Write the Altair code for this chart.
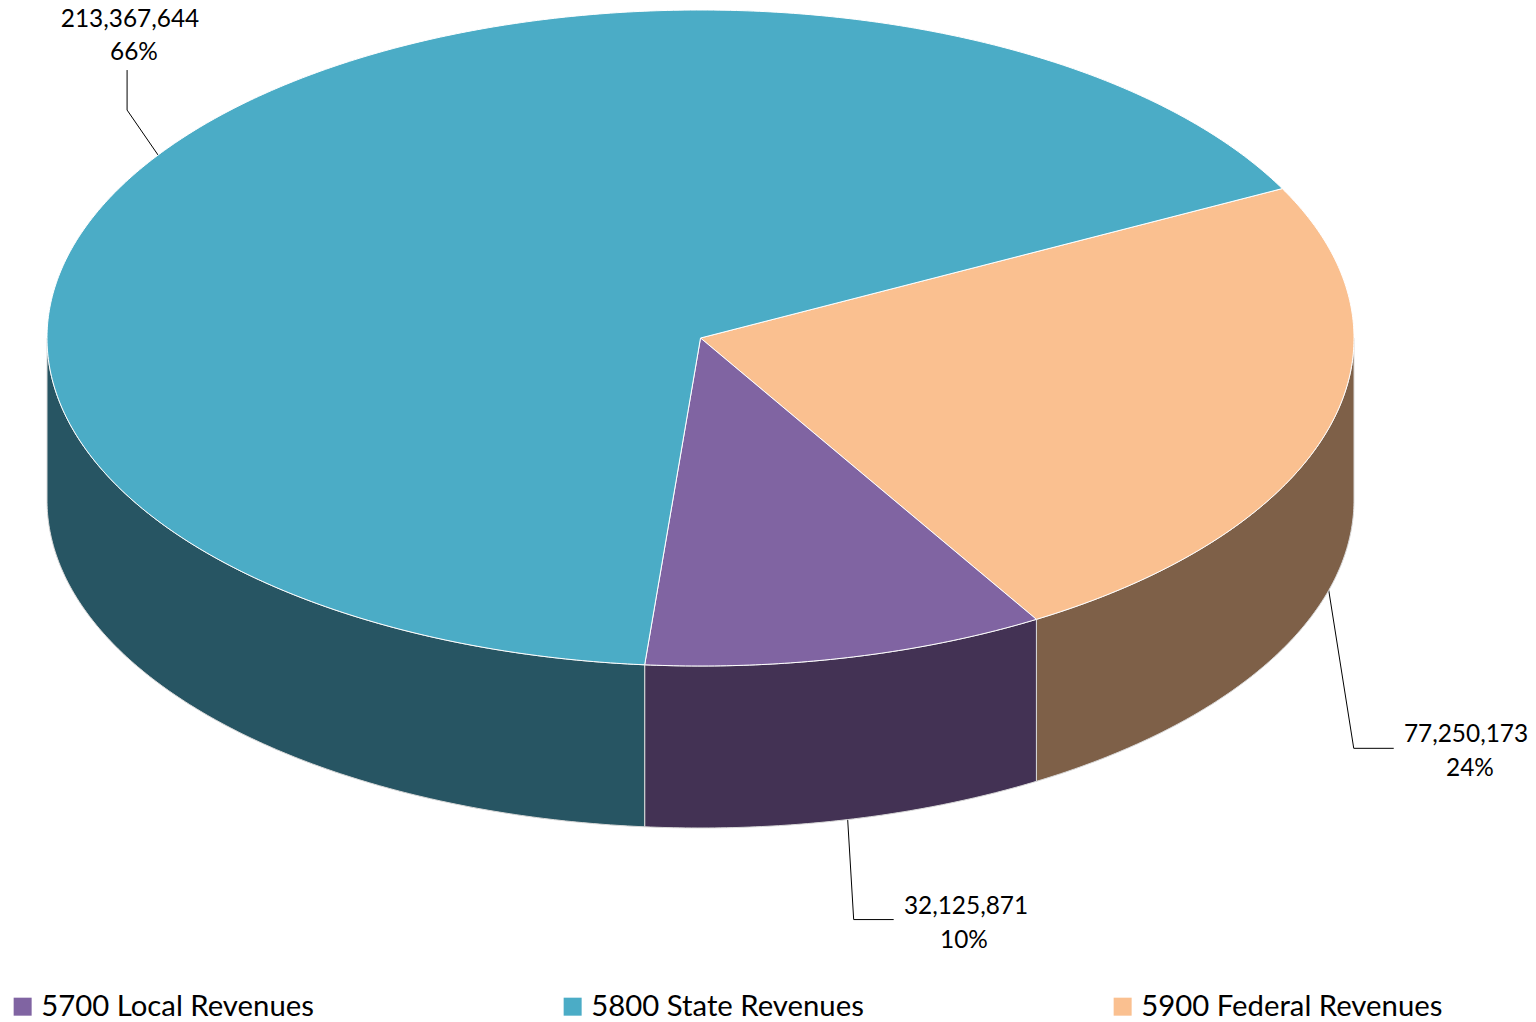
import math
import altair as alt
import pandas as pd

categories = ["5700 Local Revenues", "5800 State Revenues", "5900 Federal Revenues"]
values = [32125871, 213367644, 77250173]
percent_labels = ["10%", "66%", "24%"]
value_labels = ["32,125,871", "213,367,644", "77,250,173"]
top_colors = ["#8064A2", "#4BACC6", "#FAC090"]
side_colors = ["#433254", "#275563", "#7E6048"]
draw_order = [2, 0, 1]          # clockwise from the first slice
first_angle = 62.9              # degrees clockwise from 12 o'clock
cx, cy, rx, ry, depth = 700.5, 338.0, 653.5, 328.0, 162.0
# leader elbow and label offsets relative to the slice's mid point on the rim
elbows = {0: [(6, 100), (46, 100)], 1: [(-31, -45), (-31, -85)], 2: [(25, 158), (65, 158)]}
label_xy = {0: (966, 964, 907, 941), 1: (130, 134, 20, 53), 2: (1466, 1470, 735, 769)}

W, H = 1520, 1014
xs = alt.Scale(domain=[8, 8 + W], nice=False, zero=False)
ys = alt.Scale(domain=[8 + H, 8], nice=False, zero=False)
X = alt.X("x:Q", scale=xs, axis=None)
Y = alt.Y("y:Q", scale=ys, axis=None)


def pt(deg, drop=0.0):
    a = math.radians(deg)
    return cx + rx * math.sin(a), cy - ry * math.cos(a) + drop


def arc(a0, a1, drop=0.0):
    n = max(2, int(abs(a1 - a0)) * 2)
    return [pt(a0 + (a1 - a0) * k / n, drop) for k in range(n + 1)]


total = sum(values)
spans, angle = {}, first_angle
for s in draw_order:
    spans[s] = (angle, angle + 360 * values[s] / total)
    angle = spans[s][1]

top_rows, side_rows, leader_rows, text_rows = [], [], [], []
for s in draw_order:
    a0, a1 = spans[s]
    poly = [(cx, cy)] + arc(a0, a1) + [(cx, cy)]
    for i, (x, y) in enumerate(poly):
        top_rows.append(dict(cat=categories[s], x=x, y=y, i=i))
    v0, v1 = max(a0, 90), min(a1, 270)
    wall = arc(v0, v1) + arc(v1, v0, depth)
    wall.append(wall[0])
    for i, (x, y) in enumerate(wall):
        side_rows.append(dict(s=str(s), x=x, y=y, i=i, col=side_colors[s]))
    mid = (a0 + a1) / 2
    visible_front = 90 < mid % 360 < 270
    mx, my = pt(mid, depth if visible_front else 0)
    line = [(mx, my)] + [(mx + dx, my + dy) for dx, dy in elbows[s]]
    for i, (x, y) in enumerate(line):
        leader_rows.append(dict(s=str(s), x=x, y=y, i=i))
    tx1, tx2, ty1, ty2 = label_xy[s]
    text_rows.append(dict(x=tx1, y=ty1, t=value_labels[s]))
    text_rows.append(dict(x=tx2, y=ty2, t=percent_labels[s]))

sides = alt.Chart(pd.DataFrame(side_rows)).mark_line(
    filled=True, stroke="#D9D9D9", strokeWidth=1, interpolate="linear"
).encode(x=X, y=Y, detail="s:N", order="i:Q",
         fill=alt.Fill("col:N", scale=None))

tops = alt.Chart(pd.DataFrame(top_rows)).mark_line(
    filled=True, stroke="white", strokeWidth=1, interpolate="linear"
).encode(
    x=X, y=Y, order="i:Q",
    fill=alt.Fill(
        "cat:N",
        scale=alt.Scale(domain=categories, range=top_colors),
        legend=alt.Legend(
            title=None, orient="none", legendX=0, legendY=984, columns=3,
            direction="horizontal", symbolType="square", symbolSize=324,
            symbolStrokeWidth=0, labelFont="Lato", labelFontSize=29.3,
            labelColor="#000000", labelLimit=500, columnPadding=215,
            gridAlign="all", labelOffset=4,
        ),
    ),
)

leaders = alt.Chart(pd.DataFrame(leader_rows)).mark_line(
    color="#000000", strokeWidth=1
).encode(x=X, y=Y, detail="s:N", order="i:Q")

texts = alt.Chart(pd.DataFrame(text_rows)).mark_text(
    font="Lato", fontSize=24.4, color="#000000", align="center", baseline="middle"
).encode(x=X, y=Y, text="t:N")

chart = alt.layer(leaders, sides, tops, texts).properties(
    width=W, height=H, padding=0, background="white",
    autosize=alt.AutoSizeParams(type="none"),
).configure_view(stroke=None)

chart.save("out.html", embed_options={"renderer": "svg", "actions": False})
